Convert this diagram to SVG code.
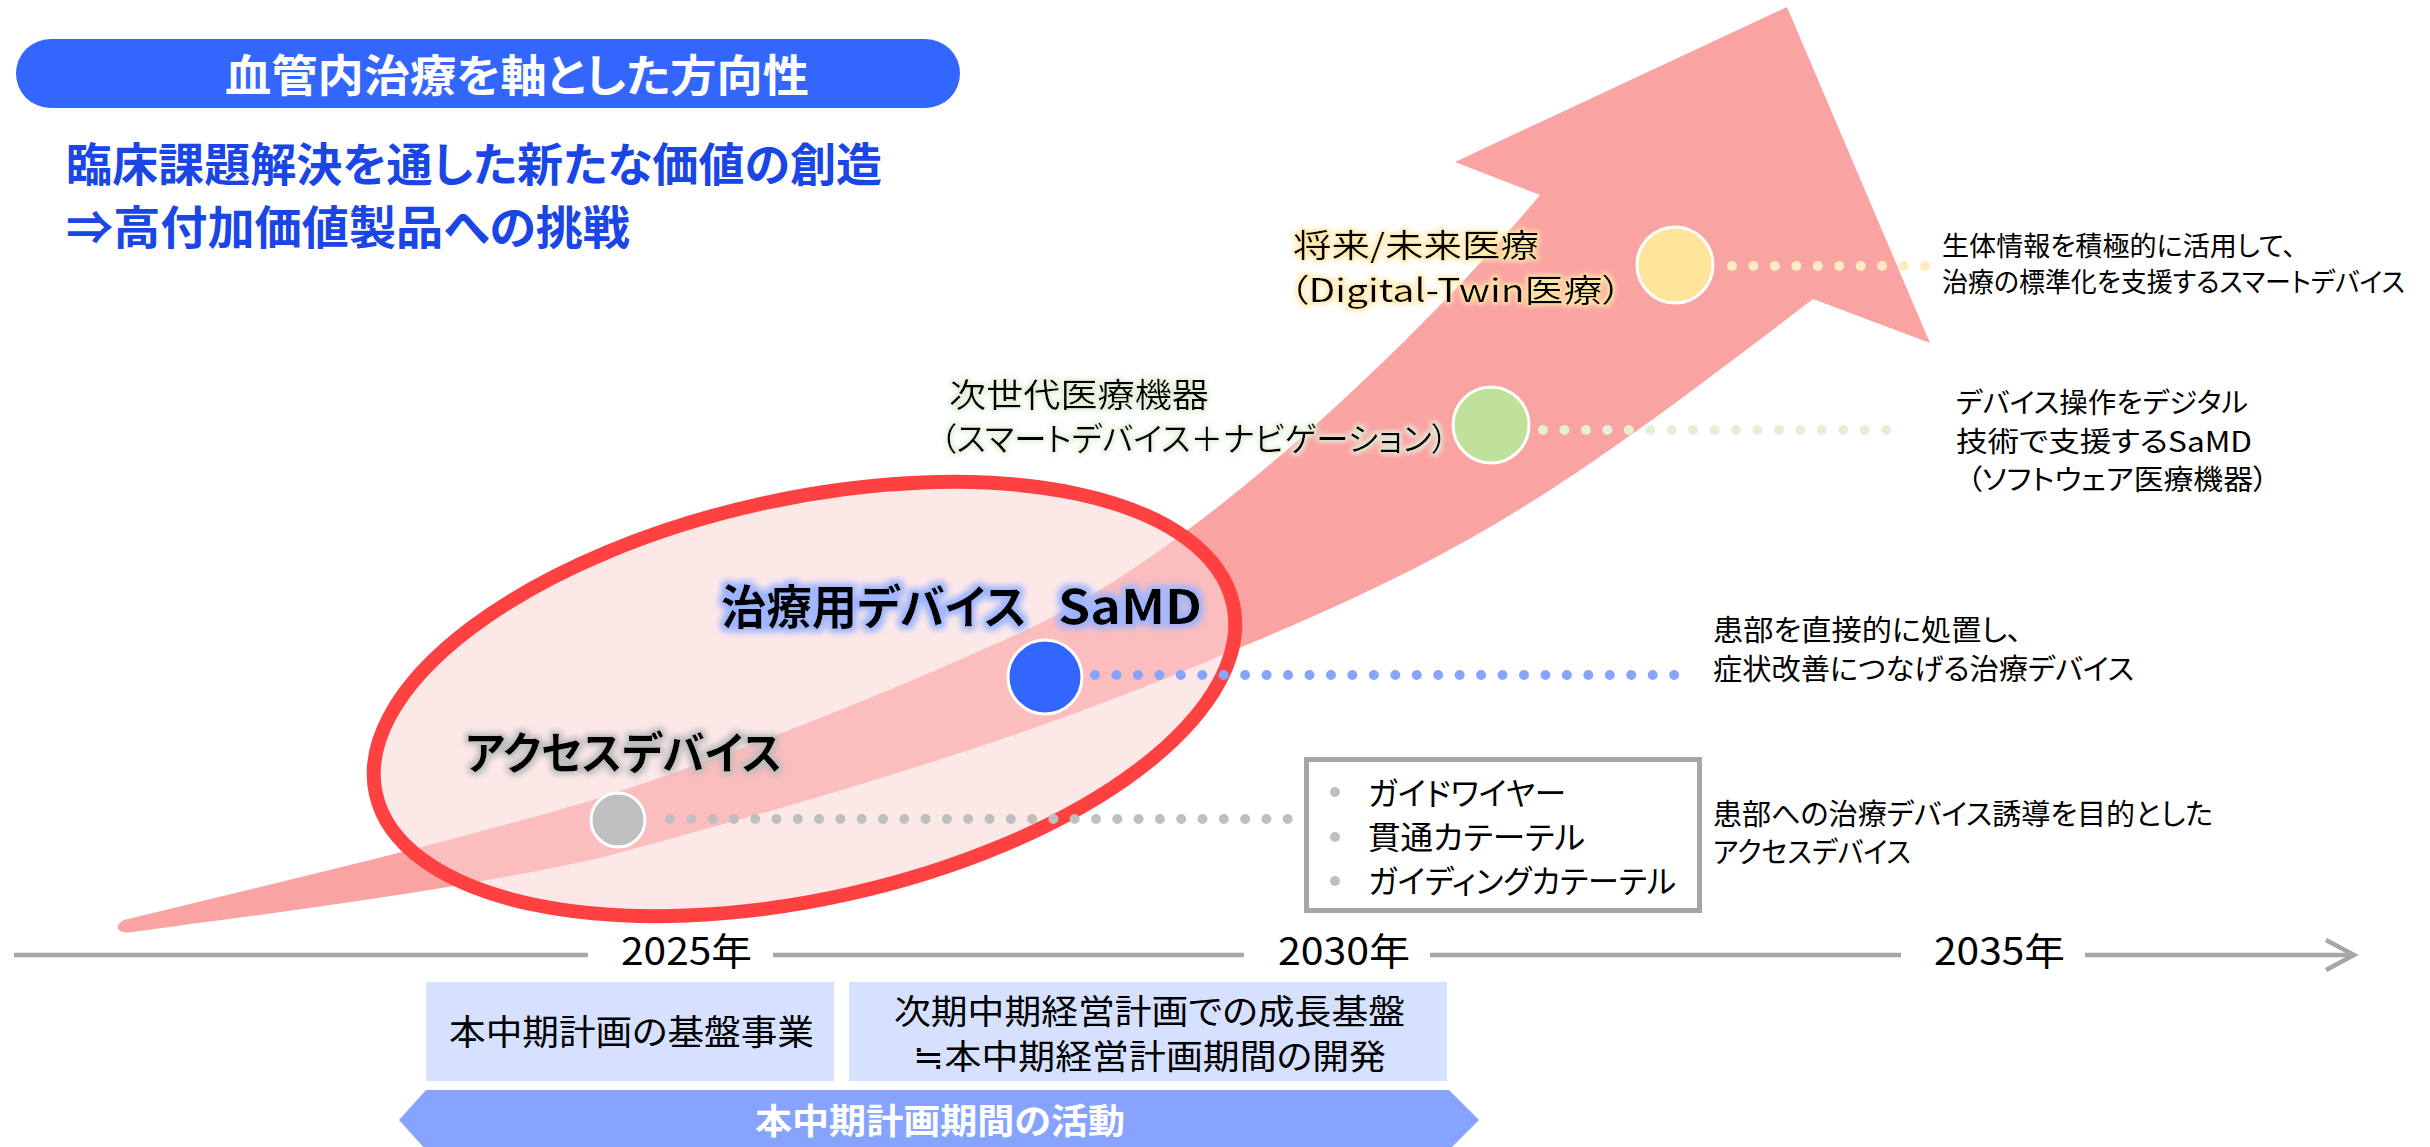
<svg xmlns="http://www.w3.org/2000/svg" width="2430" height="1147" viewBox="0 0 2430 1147">
<defs>
<style>
.t{font-family:'Noto Sans CJK JP','Noto Sans',sans-serif;font-feature-settings:'palt';fill:#000}
.b{font-weight:700}
.w{fill:#fff}
.dot{fill:none;stroke-linecap:round;stroke-width:10}
.tl{stroke:#A6A6A6;stroke-width:4.5;fill:none}
.node{stroke:#fff;stroke-width:3}
</style>
<filter id="gY" x="-10%" y="-40%" width="120%" height="180%">
<feMorphology in="SourceAlpha" operator="dilate" radius="2" result="d"/>
<feGaussianBlur in="d" stdDeviation="2.5" result="bl"/>
<feFlood flood-color="#FFE7A6"/>
<feComposite in2="bl" operator="in" result="g"/>
<feMerge><feMergeNode in="g"/><feMergeNode in="SourceGraphic"/></feMerge>
</filter>
<filter id="gG" x="-10%" y="-40%" width="120%" height="180%">
<feMorphology in="SourceAlpha" operator="dilate" radius="2" result="d"/>
<feGaussianBlur in="d" stdDeviation="2.5" result="bl"/>
<feFlood flood-color="#E2F0D9"/>
<feComposite in2="bl" operator="in" result="g"/>
<feMerge><feMergeNode in="g"/><feMergeNode in="SourceGraphic"/></feMerge>
</filter>
<filter id="gB" x="-10%" y="-40%" width="120%" height="180%">
<feMorphology in="SourceAlpha" operator="dilate" radius="4" result="d"/>
<feGaussianBlur in="d" stdDeviation="3" result="bl"/>
<feFlood flood-color="#9DB5FF"/>
<feComposite in2="bl" operator="in" result="g"/>
<feMerge><feMergeNode in="g"/><feMergeNode in="SourceGraphic"/></feMerge>
</filter>
<filter id="gK" x="-10%" y="-40%" width="120%" height="180%">
<feMorphology in="SourceAlpha" operator="dilate" radius="3" result="d"/>
<feGaussianBlur in="d" stdDeviation="3" result="bl"/>
<feFlood flood-color="#BBBBBB"/>
<feComposite in2="bl" operator="in" result="g"/>
<feMerge><feMergeNode in="g"/><feMergeNode in="SourceGraphic"/></feMerge>
</filter>
</defs>
<rect width="2430" height="1147" fill="#fff"/>

<g id="header">
<rect x="16" y="39" width="944" height="69" rx="34.5" fill="#3366FF"/>
<text class="t b w" x="225" y="92" font-size="44" textLength="584" lengthAdjust="spacingAndGlyphs">血管内治療を軸とした方向性</text>
<text class="t b" style="fill:#1A46E6" x="66" y="181" font-size="46" textLength="816" lengthAdjust="spacingAndGlyphs">臨床課題解決を通した新たな価値の創造</text>
<text class="t b" style="fill:#1A46E6" x="66" y="244" font-size="46" textLength="564" lengthAdjust="spacingAndGlyphs">⇒高付加価値製品への挑戦</text>
</g>

<g id="growth-arrow">
<path d="M124 920 C280 882 440 845 593 800 C733 755 880 696 1020 633 C1200 552 1430 327 1540 195 L1455 162 L1787 7 L1930 343 L1813 299 C1563 490 1477 550 1227 653 C1017 743 810 801 600 858 C440 893 263 914 133 932 C118 935 112 926 124 920 Z" fill="#FAA3A3"/>
</g>

<g id="focus-ellipse">
<ellipse cx="804.5" cy="699" rx="439" ry="200" transform="rotate(-12.5 804.5 699)" fill="#FBD4D4" fill-opacity="0.53" stroke="#FF4141" stroke-width="14"/>
</g>

<g id="connectors">
<line class="dot" x1="670" y1="819" x2="1311" y2="819" stroke="#BFBFBF" stroke-dasharray="0 21.3"/>
<line class="dot" x1="1095" y1="675" x2="1676" y2="675" stroke="#87A5FF" stroke-dasharray="0 21.45"/>
<line class="dot" x1="1543" y1="430" x2="1888" y2="430" stroke="#E3F0D6" stroke-dasharray="0 21.45"/>
<line class="dot" x1="1732" y1="266" x2="1927" y2="266" stroke="#FFEBC2" stroke-dasharray="0 21.45"/>
</g>

<g id="node-access">
<circle class="node" cx="618" cy="820" r="27" fill="#BFBFBF"/>
<text class="t b" x="465" y="770" font-size="45" textLength="317" lengthAdjust="spacingAndGlyphs" filter="url(#gK)">アクセスデバイス</text>
</g>

<g id="node-treatment">
<circle class="node" cx="1045" cy="677" r="37" fill="#3366FF"/>
<text class="t b" x="721" y="624" font-size="47" textLength="306" lengthAdjust="spacingAndGlyphs" filter="url(#gB)">治療用デバイス</text>
<text class="t b" x="1058" y="624" font-size="47" textLength="144" lengthAdjust="spacingAndGlyphs" filter="url(#gB)">SaMD</text>
</g>

<g id="node-nextgen">
<circle class="node" cx="1491" cy="425" r="38" fill="#C0E19A"/>
<text class="t" x="949" y="407" font-size="32.5" textLength="260" lengthAdjust="spacingAndGlyphs" filter="url(#gG)">次世代医療機器</text>
<text class="t" x="940" y="451" font-size="32.5" textLength="508" lengthAdjust="spacingAndGlyphs" filter="url(#gG)">（スマートデバイス＋ナビゲーション）</text>
</g>

<g id="node-future">
<circle class="node" cx="1675" cy="265" r="38" fill="#FFE599"/>
<text class="t" x="1293" y="257" font-size="32" textLength="246" lengthAdjust="spacingAndGlyphs" filter="url(#gY)">将来/未来医療</text>
<text class="t" x="1289" y="302" font-size="32" textLength="333" lengthAdjust="spacingAndGlyphs" filter="url(#gY)">（Digital-Twin医療）</text>
</g>

<g id="desc-future">
<text class="t" x="1942" y="256" font-size="27" textLength="354" lengthAdjust="spacingAndGlyphs">生体情報を積極的に活用して、</text>
<text class="t" x="1942" y="292" font-size="27" textLength="463" lengthAdjust="spacingAndGlyphs">治療の標準化を支援するスマートデバイス</text>
</g>

<g id="desc-nextgen">
<text class="t" x="1956" y="413" font-size="28" textLength="292" lengthAdjust="spacingAndGlyphs">デバイス操作をデジタル</text>
<text class="t" x="1956" y="452" font-size="28" textLength="296" lengthAdjust="spacingAndGlyphs">技術で支援するSaMD</text>
<text class="t" x="1967" y="490" font-size="28" textLength="301" lengthAdjust="spacingAndGlyphs">（ソフトウェア医療機器）</text>
</g>

<g id="desc-treatment">
<text class="t" x="1713" y="641" font-size="29" textLength="309" lengthAdjust="spacingAndGlyphs">患部を直接的に処置し、</text>
<text class="t" x="1713" y="680" font-size="29" textLength="421" lengthAdjust="spacingAndGlyphs">症状改善につなげる治療デバイス</text>
</g>

<g id="access-list">
<rect x="1306.5" y="759.5" width="393" height="151" fill="#fff" stroke="#A6A6A6" stroke-width="5"/>
<circle cx="1335" cy="792" r="5" fill="#BFBFBF"/>
<circle cx="1335" cy="837" r="5" fill="#BFBFBF"/>
<circle cx="1335" cy="881" r="5" fill="#BFBFBF"/>
<text class="t" x="1368" y="805" font-size="32" textLength="198" lengthAdjust="spacingAndGlyphs">ガイドワイヤー</text>
<text class="t" x="1368" y="849" font-size="32" textLength="217" lengthAdjust="spacingAndGlyphs">貫通カテーテル</text>
<text class="t" x="1368" y="893" font-size="32" textLength="308" lengthAdjust="spacingAndGlyphs">ガイディングカテーテル</text>
</g>

<g id="desc-access">
<text class="t" x="1713" y="825" font-size="29" textLength="500" lengthAdjust="spacingAndGlyphs">患部への治療デバイス誘導を目的とした</text>
<text class="t" x="1713" y="863" font-size="29" textLength="198" lengthAdjust="spacingAndGlyphs">アクセスデバイス</text>
</g>

<g id="timeline">
<line class="tl" x1="14" y1="955" x2="588" y2="955"/>
<line class="tl" x1="773" y1="955" x2="1244" y2="955"/>
<line class="tl" x1="1430" y1="955" x2="1901" y2="955"/>
<line class="tl" x1="2085" y1="955" x2="2353" y2="955"/>
<polyline class="tl" points="2326,940 2354,955 2326,970"/>
<text class="t" x="621" y="965" font-size="38" textLength="131" lengthAdjust="spacingAndGlyphs">2025年</text>
<text class="t" x="1278" y="965" font-size="38" textLength="132" lengthAdjust="spacingAndGlyphs">2030年</text>
<text class="t" x="1934" y="965" font-size="38" textLength="131" lengthAdjust="spacingAndGlyphs">2035年</text>
</g>

<g id="plan-current">
<rect x="426" y="982" width="408" height="99" fill="#D6E0FF"/>
<text class="t" x="449" y="1045" font-size="35" textLength="365" lengthAdjust="spacingAndGlyphs">本中期計画の基盤事業</text>
</g>

<g id="plan-next">
<rect x="849" y="982" width="598" height="99" fill="#D6E0FF"/>
<text class="t" x="894" y="1024" font-size="34" textLength="511" lengthAdjust="spacingAndGlyphs">次期中期経営計画での成長基盤</text>
<text class="t" x="913" y="1069" font-size="34" textLength="473" lengthAdjust="spacingAndGlyphs">≒本中期経営計画期間の開発</text>
</g>

<g id="activity-band">
<polygon points="426,1090 1449,1090 1479,1120 1449,1150 426,1150 399,1120" fill="#86A4FF"/>
<text class="t b w" x="755" y="1134" font-size="35" textLength="370" lengthAdjust="spacingAndGlyphs">本中期計画期間の活動</text>
</g>
</svg>
